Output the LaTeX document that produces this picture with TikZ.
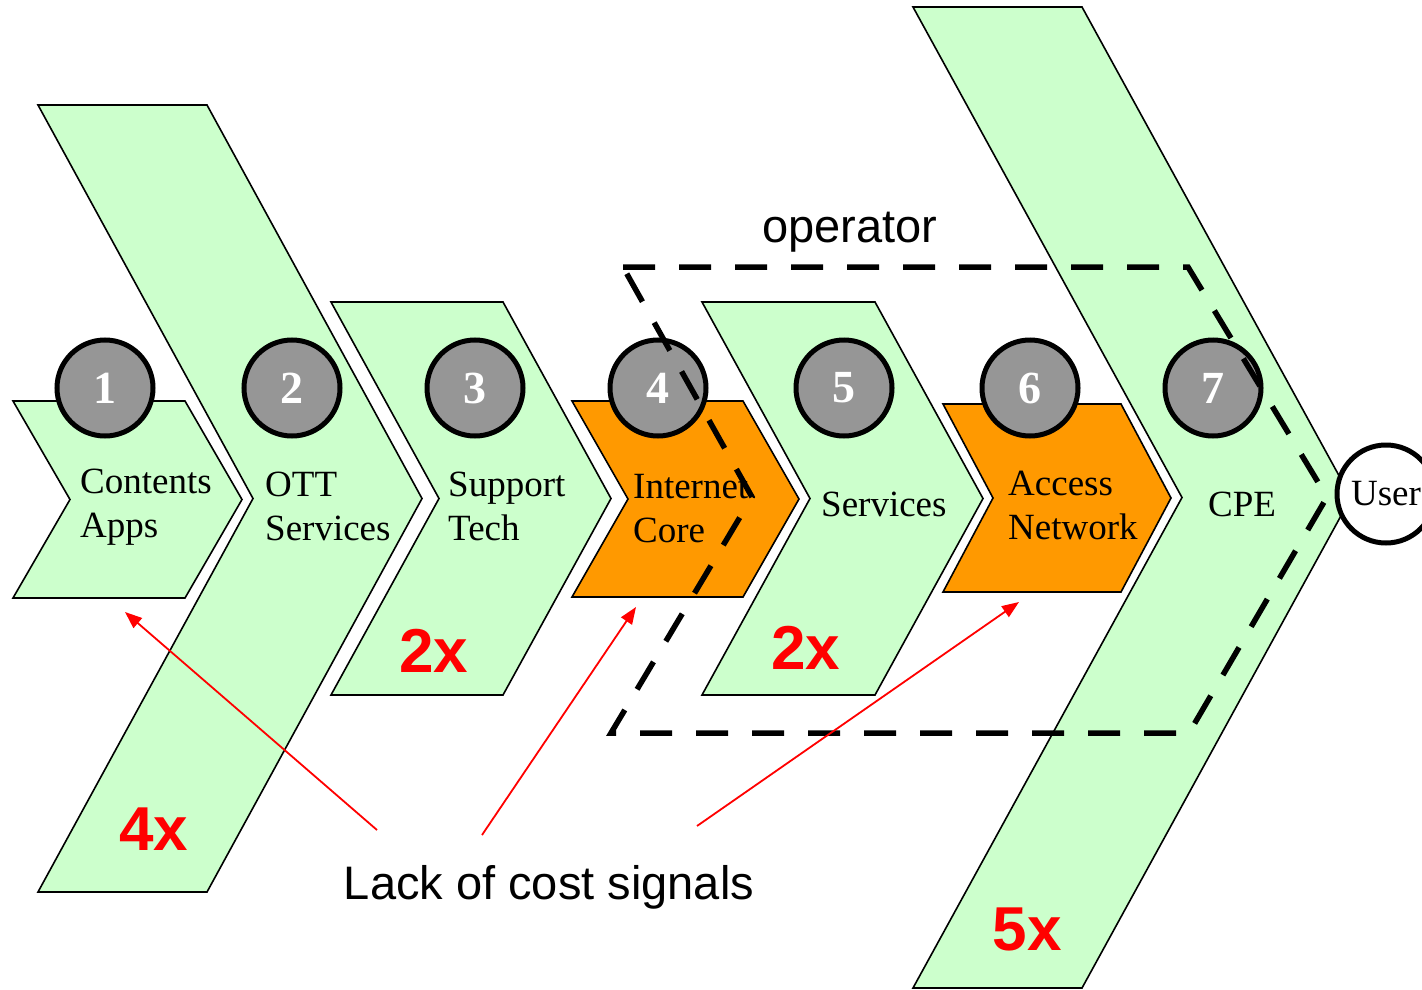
\documentclass[tikz,border=0pt]{standalone}
\usepackage{fontspec}
\setmainfont{Liberation Serif}
\newfontfamily\sansf{Liberation Sans}
\usetikzlibrary{arrows.meta}
\definecolor{lgreen}{HTML}{CCFFCC}
\definecolor{orng}{HTML}{FF9900}
\definecolor{cgray}{HTML}{969696}
\tikzset{
  chev/.style={draw=black, line width=1.6pt, line join=miter},
  greenchev/.style={chev, fill=lgreen},
  orangechev/.style={chev, fill=orng},
  numcirc/.style={circle, draw=black, line width=5pt, fill=cgray, minimum size=96pt, inner sep=0pt, text=white, font=\fontsize{46}{46}\selectfont\bfseries},
  usercirc/.style={circle, draw=black, line width=5pt, fill=white, minimum size=98pt, inner sep=0pt, font=\fontsize{37}{44}\selectfont},
  lbl/.style={anchor=west, align=left, font=\fontsize{37}{44}\selectfont, inner sep=0pt},
  factor/.style={text=red, inner sep=0pt, font=\sansf\bfseries\fontsize{62}{62}\selectfont},
  sanslbl/.style={inner sep=0pt, font=\sansf\fontsize{47}{56}\selectfont},
  opbox/.style={draw=black, line width=5.5pt, dash pattern=on 32pt off 24pt},
  sig/.style={draw=red, line width=1.8pt, -{Triangle[length=17pt,width=13pt]}},
}
% #1 style, #2 left x, #3 top y, #4 width, #5 height, #6 tip offset
\newcommand\mychev[6]{%
  \path[#1] (#2,#3) -- ++(#4,0) -- ++(#6,#5/2) -- ++(-#6,#5/2) -- ++(-#4,0) -- ++(#6,-#5/2) -- cycle;}
\begin{document}
\begin{tikzpicture}[x=1pt,y=-1pt]
\useasboundingbox (0,0) rectangle (1422,990);
% chevrons
\mychev{greenchev}{13}{401}{172}{197}{57}
\mychev{greenchev}{38}{105}{169}{787}{215}
\mychev{greenchev}{331}{302}{172}{393}{108}
\mychev{orangechev}{572}{401}{171}{196}{56}
\mychev{greenchev}{702}{302}{173}{393}{108}
\mychev{orangechev}{943}{404}{178}{188}{50}
\mychev{greenchev}{913}{7}{169}{981}{269}
% labels
\node[lbl] (l1) at (80,507) {Contents\\Apps};
\node[lbl] (l2) at (265,506) {OTT\\Services};
\node[lbl] (l3) at (448,506) {Support\\Tech};
\node[lbl] (l4) at (633,509) {Internet\\Core};
\node[lbl] (l5) at (821,504) {Services};
\node[lbl] (l6) at (1008,505) {Access\\Network};
\node[lbl] (l7) at (1208,504) {CPE};
% number circles
\node[numcirc] (c1) at (105,388) {1};
\node[numcirc] (c2) at (292,388) {2};
\node[numcirc] (c3) at (475,388) {3};
\node[numcirc] (c4) at (658,388) {4};
\node[numcirc] (c5) at (844,388) {5};
\node[numcirc] (c6) at (1030,388) {6};
\node[numcirc] (c7) at (1213,388) {7};
\node[usercirc] (user) at (1386,494) {User};
% operator boundary
\coordinate (oA) at (623,267);
\coordinate (oB) at (1188,267);
\coordinate (oC) at (1327,497);
\coordinate (oD) at (1189,733);
\coordinate (oE) at (611,733);
\coordinate (oF) at (752,497);
\draw[opbox] (oA) -- (oB) -- (oC) -- (oD) -- (oE) -- (oF) -- cycle;
\node[sanslbl] (op) at (850,232) {operator};
% factors
\node[factor] (f1) at (154,829) {4x};
\node[factor] (f2) at (434,651) {2x};
\node[factor] (f3) at (806,648) {2x};
\node[factor] (f4) at (1027,929) {5x};
% cost signals
\node[sanslbl] (lack) at (549,887) {Lack of cost signals};
\coordinate (s1) at (377,830);
\coordinate (s2) at (482,835);
\coordinate (s3) at (697,826);
\coordinate (t1) at (125,612);
\coordinate (t2) at (636,607);
\coordinate (t3) at (1019,602);
\draw[sig] (s1) -- (t1);
\draw[sig] (s2) -- (t2);
\draw[sig] (s3) -- (t3);
\end{tikzpicture}
\end{document}
